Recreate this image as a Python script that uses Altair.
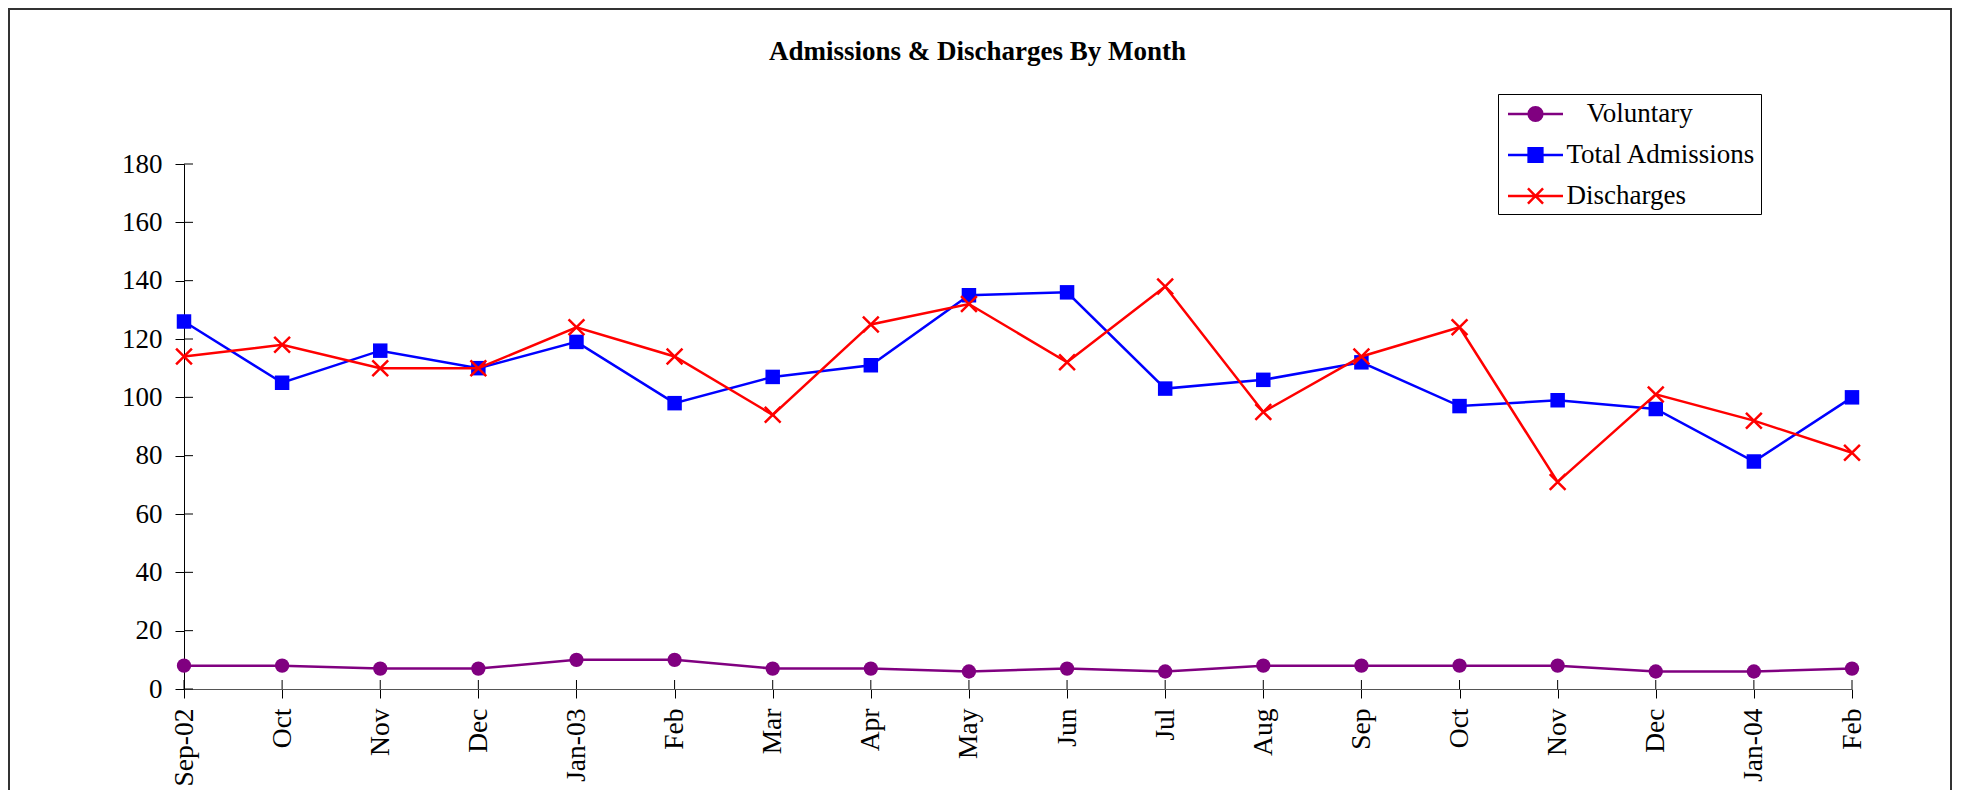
import json
import altair as alt
import pandas as pd

# ---- data ----
months = ["Sep-02", "Oct", "Nov", "Dec", "Jan-03", "Feb", "Mar", "Apr", "May",
          "Jun", "Jul", "Aug", "Sep", "Oct", "Nov", "Dec", "Jan-04", "Feb"]
voluntary = [8, 8, 7, 7, 10, 10, 7, 7, 6, 7, 6, 8, 8, 8, 8, 6, 6, 7]
total_admissions = [126, 105, 116, 110, 119, 98, 107, 111, 135, 136, 103, 106, 112, 97, 99, 96, 78, 100]
discharges = [114, 118, 110, 110, 124, 114, 94, 125, 132, 112, 138, 95, 114, 124, 71, 101, 92, 81]
series_names = ["Voluntary", "Total Admissions", "Discharges"]
series_colors = ["#800080", "#0000FF", "#FF0000"]
y_ticks = [0, 20, 40, 60, 80, 100, 120, 140, 160, 180]

rows = []
for name, vals in zip(series_names, [voluntary, total_admissions, discharges]):
    for i, v in enumerate(vals):
        rows.append({"idx": i, "series": name, "value": v})
df = pd.DataFrame(rows)
ticks_df = pd.DataFrame({"tick": y_ticks})
months_df = pd.DataFrame({"idx": list(range(len(months)))})

W, H = 1668, 525
FONT = "Liberation Serif"
label_expr = json.dumps(months) + "[datum.value]"

x_enc = alt.X("idx:O",
              scale=alt.Scale(type="point", padding=0),
              axis=alt.Axis(title=None, labelExpr=label_expr, labelAngle=-90,
                            labelFont=FONT, labelFontSize=27.5, labelColor="black",
                            labelPadding=10, tickSize=9, tickColor="black",
                            domainColor="#555555", grid=False))
y_enc = alt.Y("value:Q",
              scale=alt.Scale(domain=[0, 180], nice=False, zero=True),
              axis=alt.Axis(title=None, values=y_ticks, labelFont=FONT,
                            labelFontSize=27, labelColor="black", labelPadding=13,
                            tickSize=9, tickColor="black", domainColor="black",
                            grid=False))

base = alt.Chart(df)

shapes = {
    "Voluntary": "circle",
    "Total Admissions": "square",
    "Discharges": "M-1,-1L1,1M-1,1L1,-1",
}
sizes = {"Voluntary": 205, "Total Admissions": 210, "Discharges": 250}

layers = []
for name, col in zip(series_names, series_colors):
    sub = base.transform_filter(alt.datum.series == name)
    layers.append(sub.mark_line(color=col, strokeWidth=2.5).encode(x=x_enc, y=y_enc))
    if name == "Discharges":
        pt = sub.mark_point(shape=shapes[name], filled=False, color=col,
                            strokeWidth=2.5, size=sizes[name], opacity=1)
    else:
        pt = sub.mark_point(shape=shapes[name], filled=True, color=col,
                            size=sizes[name], opacity=1)
    layers.append(pt.encode(x=x_enc, y=y_enc))

# legend symbols: line with marker (custom paths)
legend_paths = [
    "M-2,0H2M0.5,0A0.5,0.5,0,1,1,-0.5,0A0.5,0.5,0,1,1,0.5,0Z",
    "M-2,0H2M-0.5,-0.5H0.5V0.5H-0.5Z",
    "M-2,0H2M-0.55,-0.55L0.55,0.55M-0.55,0.55L0.55,-0.55",
]
# Vega trims label text, so a zero-width char leads the indent spaces
indent = "\u200b\u2002\u2005"
leg = alt.Legend(title=None, orient="none", legendX=1314, legendY=-70,
                 padding=5, strokeColor="black", fillColor="white",
                 symbolSize=756, symbolStrokeWidth=2.5, symbolOffset=17.5,
                 labelOffset=16, labelFont=FONT, labelFontSize=27,
                 labelColor="black", rowPadding=13, labelLimit=500,
                 labelExpr="datum.label == 'Voluntary' ? '" + indent + "Voluntary' : datum.label")
legend_layer = base.transform_filter(alt.datum.value < -1000).mark_point(opacity=1).encode(
    x=x_enc, y=y_enc,
    fill=alt.Fill("series:N", scale=alt.Scale(domain=series_names, range=series_colors),
                  sort=series_names, legend=leg),
    stroke=alt.Stroke("series:N", scale=alt.Scale(domain=series_names, range=series_colors),
                      sort=series_names, legend=leg),
    shape=alt.Shape("series:N", scale=alt.Scale(domain=series_names, range=legend_paths),
                    sort=series_names, legend=leg),
)

# inner halves of the axis ticks (ticks cross the axes in the reference)
ytick_inner = alt.Chart(ticks_df).mark_rule(color="black", strokeWidth=1).encode(
    x=alt.value(0), x2=alt.value(9),
    y=alt.Y("tick:Q", scale=alt.Scale(domain=[0, 180], nice=False)))
xtick_inner = alt.Chart(months_df).mark_rule(color="black", strokeWidth=1).encode(
    x=alt.X("idx:O", scale=alt.Scale(type="point", padding=0)),
    y=alt.value(H), y2=alt.value(H - 9))

# outer frame of the picture
frame = alt.Chart(alt.Data(values=[{"a": 1}])).mark_rect(
    fill="transparent", stroke="#333333", strokeWidth=2).encode(
    x=alt.value(-175), x2=alt.value(1767), y=alt.value(-155), y2=alt.value(700))

chart = alt.layer(frame, ytick_inner, xtick_inner, *layers, legend_layer).properties(
    width=W, height=H,
    title=alt.TitleParams(text="Admissions & Discharges By Month", font=FONT,
                          fontSize=27, fontWeight="bold", color="black",
                          anchor="middle", frame="group", dx=-40.5,
                          baseline="alphabetic", offset=-79),
    autosize=alt.AutoSizeParams(type="none"),
    padding={"left": 176, "top": 156, "right": 115, "bottom": 101},
    background="white",
).configure_view(stroke=None)

chart.save("out.html", embed_options={"renderer": "svg", "actions": False})
